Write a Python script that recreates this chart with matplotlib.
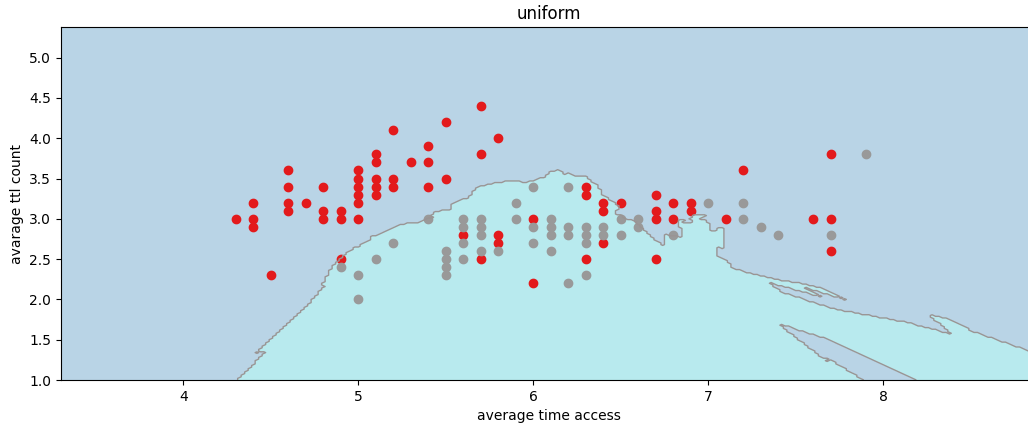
import numpy as np
import matplotlib
matplotlib.use("Agg")
import matplotlib.pyplot as plt
from matplotlib.colors import ListedColormap

# points (class 0 = red, class 1 = grey)
red_x = [4.3, 4.4, 4.4, 4.4, 4.5, 4.6, 4.6, 4.6, 4.6, 4.7, 4.8, 4.8, 4.8, 4.9, 4.9, 4.9,
         5.0, 5.0, 5.0, 5.0, 5.0, 5.0, 5.1, 5.1, 5.1, 5.1, 5.1, 5.2, 5.2, 5.2, 5.3, 5.4,
         5.4, 5.4, 5.5, 5.5, 5.6, 5.7, 5.7, 5.7, 5.8, 5.8, 5.8, 6.0, 6.0, 6.3, 6.3, 6.3,
         6.4, 6.4, 6.4, 6.5, 6.7, 6.7, 6.7, 6.7, 6.8, 6.8, 6.9, 6.9, 7.1, 7.2, 7.6, 7.7,
         7.7, 7.7]
red_y = [3.0, 3.2, 3.0, 2.9, 2.3, 3.6, 3.4, 3.2, 3.1, 3.2, 3.4, 3.1, 3.0, 3.1, 3.0, 2.5,
         3.6, 3.5, 3.4, 3.3, 3.2, 3.0, 3.8, 3.7, 3.5, 3.4, 3.3, 4.1, 3.5, 3.4, 3.7, 3.9,
         3.7, 3.4, 4.2, 3.5, 2.8, 4.4, 3.8, 2.5, 4.0, 2.8, 2.7, 3.0, 2.2, 3.4, 3.3, 2.5,
         3.2, 3.1, 2.7, 3.2, 3.3, 3.1, 3.0, 2.5, 3.2, 3.0, 3.2, 3.1, 3.0, 3.6, 3.0, 3.8,
         3.0, 2.6]
grey_x = [4.9, 5.0, 5.0, 5.1, 5.2, 5.4, 5.5, 5.5, 5.5, 5.5, 5.6, 5.6, 5.6, 5.6, 5.7, 5.7,
          5.7, 5.7, 5.8, 5.9, 5.9, 6.0, 6.0, 6.0, 6.1, 6.1, 6.1, 6.1, 6.2, 6.2, 6.2, 6.2,
          6.3, 6.3, 6.3, 6.3, 6.4, 6.4, 6.5, 6.5, 6.6, 6.6, 6.8, 7.0, 7.2, 7.2, 7.3, 7.4,
          7.7, 7.9]
grey_y = [2.4, 2.3, 2.0, 2.5, 2.7, 3.0, 2.6, 2.5, 2.4, 2.3, 3.0, 2.9, 2.7, 2.5, 3.0, 2.9,
          2.8, 2.6, 2.6, 3.2, 3.0, 3.4, 2.9, 2.7, 3.0, 2.9, 2.8, 2.6, 3.4, 2.9, 2.8, 2.2,
          2.9, 2.8, 2.7, 2.3, 2.9, 2.8, 3.0, 2.8, 3.0, 2.9, 2.8, 3.2, 3.2, 3.0, 2.9, 2.8,
          2.8, 3.8]

n_neighbors = 21
h = 0.02

X = np.column_stack([red_x + grey_x, red_y + grey_y])
y = np.array([0] * len(red_x) + [1] * len(grey_x))

cmap_light = ListedColormap(['#b9d4e6', '#b8eaee'])

x_min, x_max = X[:, 0].min() - 1, X[:, 0].max() + 1
y_min, y_max = X[:, 1].min() - 1, X[:, 1].max() + 1
xx, yy = np.meshgrid(np.arange(x_min, x_max, h), np.arange(y_min, y_max, h))
grid = np.c_[xx.ravel(), yy.ravel()]

# simple uniform-weight knn vote
d = ((grid[:, None, :] - X[None, :, :]) ** 2).sum(axis=2)
idx = np.argsort(d, axis=1, kind='stable')[:, :n_neighbors]
votes = y[idx].mean(axis=1)
Z = (votes > 0.5).astype(int).reshape(xx.shape)

fig = plt.figure(figsize=(10.28, 4.23), dpi=100)
ax = fig.add_axes([61 / 1028, 43 / 423, 976 / 1028, 353 / 423])
ax.contourf(xx, yy, Z, levels=[-0.5, 0.5, 1.5], cmap=cmap_light)
ax.contour(xx, yy, Z, levels=[0.5], colors='#9a9494', linewidths=1)

ax.scatter(red_x, red_y, c='#e31a1c', s=36)
ax.scatter(grey_x, grey_y, c='#999999', s=36)

ax.set_xlim(xx.min(), xx.max())
ax.set_ylim(yy.min(), yy.max())
ax.set_title('uniform')
ax.set_xlabel('average time access')
ax.set_ylabel('avarage ttl count')

fig.savefig('out.png', dpi=100)
